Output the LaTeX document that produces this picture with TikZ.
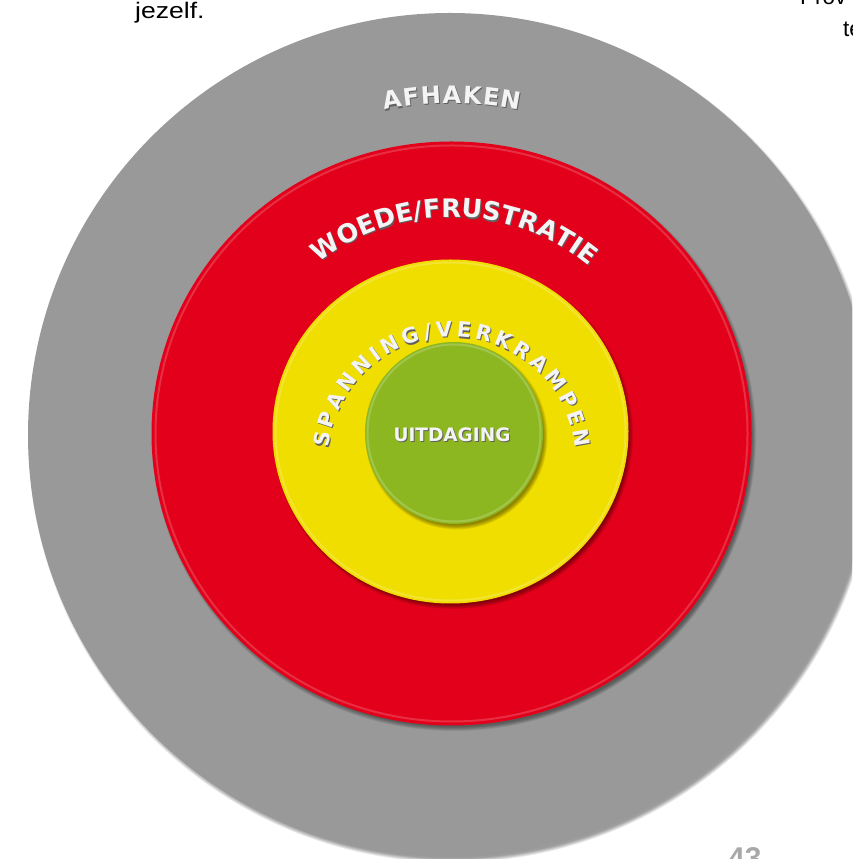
\documentclass[tikz,border=0pt]{standalone}
\usepackage{graphicx}
\usepackage{fontspec}
\setmainfont{Liberation Sans}
\newfontfamily\lblfont{DejaVu Sans}
\usetikzlibrary{decorations.text}
\definecolor{ringgray}{HTML}{999999}
\definecolor{ringred}{HTML}{E2001A}
\definecolor{ringyellow}{HTML}{F0DE00}
\definecolor{ringgreen}{HTML}{8CB720}
\definecolor{lbltext}{HTML}{F4F4F4}
\definecolor{lblshadow}{HTML}{606060}
\definecolor{pagenumgray}{HTML}{A8A8A8}
\newcommand\softshadow[4]{%
  \foreach \k in {0,...,5}{%
    \fill[black, opacity=0.08] (#1+2.5,#2-3.5) ellipse[x radius={(#3+2-0.8*\k)*1pt}, y radius={(#4+2-0.8*\k)*1pt}];}}
\newcommand\arclabel[7]{%
  \foreach \dx/\dy/\col in {1/-1.2/lblshadow, 0/0/lbltext}{%
    \path[shift={(\dx,\dy)}, decorate, decoration={text along path, text color=\col,
      text align=fit to path, text={|\lblfont\fontsize{#6}{#6}\selectfont\bfseries|#7}}]
      (#1,#2) ++(#4:#3pt) arc[start angle=#4, end angle=#5, radius=#3pt];}}
\begin{document}
\begin{tikzpicture}[x=1pt,y=1pt,
  pagetext/.style={inner sep=0pt, font=\fontsize{22.5}{22.5}\selectfont, text=black},
  pagenum/.style={inner sep=0pt, font=\fontsize{30}{30}\selectfont\bfseries, text=pagenumgray},
  centerlbl/.style={inner sep=0pt, font=\lblfont\fontsize{18.5}{18.5}\selectfont\bfseries}]
\useasboundingbox (0,0) rectangle (852,859);
\begin{scope}
\clip (0,0) rectangle (852,859);
% outer gray ring
\softshadow{450}{424}{422}{422}
\fill[ringgray] (450,424) circle[radius=422pt];
% red ring
\softshadow{451.5}{425.5}{300}{292}
\fill[ringred] (451.5,425.5) ellipse[x radius=300pt, y radius=292pt];
\draw[white, opacity=0.18, line width=2pt] (451.5,425.5) ellipse[x radius=296pt, y radius=288pt];
% yellow ring
\softshadow{450.5}{427.5}{178}{172}
\fill[ringyellow] (450.5,427.5) ellipse[x radius=178pt, y radius=172pt];
\draw[white, opacity=0.2, line width=2pt] (450.5,427.5) ellipse[x radius=175pt, y radius=169pt];
% green core
\softshadow{454}{426}{89}{91}
\fill[ringgreen] (454,426) ellipse[x radius=89pt, y radius=91pt];
\draw[white, opacity=0.2, line width=2pt] (454,426) ellipse[x radius=86.5pt, y radius=88.5pt];
% curved labels
\arclabel{452}{426}{330}{101.8}{78.2}{24}{AFHAKEN}
\arclabel{452}{426}{216}{128}{51}{25.5}{WOEDE/FRUSTRATIE}
\arclabel{452}{398}{124}{174}{6}{21}{SPANNING/VERKRAMPEN}
% centre label
\node[centerlbl, text=lblshadow] (uitshadow) at (453,422.8) {UITDAGING};
\node[centerlbl, text=lbltext] (uit) at (452,424) {UITDAGING};
% page text fragments
\node[pagetext, anchor=base west] (jezelf) at (135,840) {\scalebox{1.18}[1]{jezelf.}};
\node[pagetext, anchor=base west] (prov) at (800,854) {Prov};
\node[pagetext, anchor=base west] (te) at (843,822) {te};
\node[pagenum, anchor=north west] (pnum) at (728,12) {43};
\end{scope}
\end{tikzpicture}
\end{document}
